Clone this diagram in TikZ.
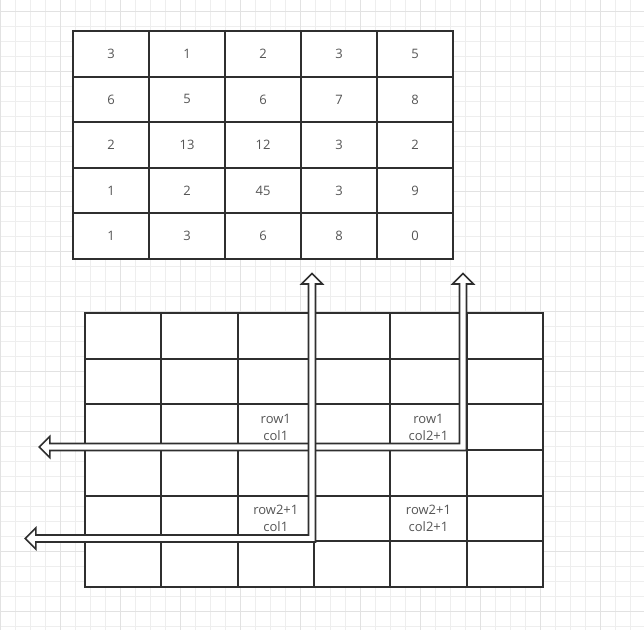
\documentclass[tikz,border=0pt]{standalone}
\usepackage{fontspec}
\setmainfont{Open Sans}
\usetikzlibrary{calc}

\definecolor{linec}{HTML}{2F2F2F}
\definecolor{txtc}{HTML}{555555}
\definecolor{minorc}{HTML}{EEEEEE}
\definecolor{majorc}{HTML}{E2E2E2}

\tikzset{
  cell/.style={draw=linec, line width=1.9pt, fill=white, inner sep=0pt, outer sep=0pt,
    text=txtc, font=\fontsize{13}{16.5}\selectfont},
  lbl/.style={text=txtc, align=center, inner sep=0pt, font=\fontsize{13}{16.5}\selectfont},
  flex/.style={draw=linec, line width=1.6pt, fill=white, line join=miter},
  minor/.style={draw=minorc, line width=1pt},
  major/.style={draw=majorc, line width=1pt}
}

% L shaped double arrow: corner, left tip, upper tip
\newcommand{\flexL}[3]{%
  \draw[flex] (#3) -- ($(#3)+(10.5,10.5)$) -- ($(#3)+(3.5,10.5)$)
    -- ($(#1)+(3.5,3.5)$) -- ($(#2)+(10.5,3.5)$) -- ($(#2)+(10.5,10.5)$)
    -- (#2) -- ($(#2)+(10.5,-10.5)$) -- ($(#2)+(10.5,-3.5)$)
    -- ($(#1)+(-3.5,-3.5)$) -- ($(#3)+(-3.5,10.5)$) -- ($(#3)+(-10.5,10.5)$) -- cycle;}

\begin{document}
\begin{tikzpicture}[x=1pt, y=-1pt]

    % Background grid
    \useasboundingbox (0,0) rectangle (644,630);
    \fill[white] (0,0) rectangle (644,630);
    \foreach \x in {0.7,15.7,...,644} \draw[minor] (\x,0) -- (\x,630);
    \foreach \y in {11.7,26.7,...,630} \draw[minor] (0,\y) -- (644,\y);
    \foreach \x in {0.7,60.7,...,644} \draw[major] (\x,0) -- (\x,630);
    \foreach \y in {11.7,71.7,...,630} \draw[major] (0,\y) -- (644,\y);

    % Upper matrix
    \foreach \vals [count=\r] in {{3,1,2,3,5},{6,5,6,7,8},{2,13,12,3,2},{1,2,45,3,9},{1,3,6,8,0}} {
      \foreach \v [count=\c] in \vals {
        \pgfmathsetmacro\x{73 + (\c-0.5)*76}
        \pgfmathsetmacro\y{31 + (\r-0.5)*45.6}
        \node[cell, minimum width=76pt, minimum height=45.6pt] (A\r\c) at (\x, \y) {\v};
      }
    }

    % Lower matrix
    \foreach \r in {1,...,6} {
      \foreach \c in {1,...,6} {
        \pgfmathsetmacro\x{85 + (\c-0.5)*76.33}
        \pgfmathsetmacro\y{313 + (\r-0.5)*45.67}
        \node[cell, minimum width=76.33pt, minimum height=45.67pt] (B\r\c) at (\x, \y) {};
      }
    }

    % Cell labels
    \node[lbl] (Lrc)   at (B33) {row1\\col1};
    \node[lbl] (LrC)   at (B35) {row1\\col2+1};
    \node[lbl] (LRc)   at (B53) {row2+1\\col1};
    \node[lbl] (LRC)   at (B55) {row2+1\\col2+1};

    % Arrow ends
    \coordinate (cB) at (463,447);
    \coordinate (lB) at (39.3,447);
    \coordinate (uB) at (463,273.5);

    \coordinate (cA) at (312,538.5);
    \coordinate (lA) at (25.3,538.5);
    \coordinate (uA) at (312,273.5);

    % Arrows
    \flexL{cB}{lB}{uB}
    \flexL{cA}{lA}{uA}

\end{tikzpicture}
\end{document}
